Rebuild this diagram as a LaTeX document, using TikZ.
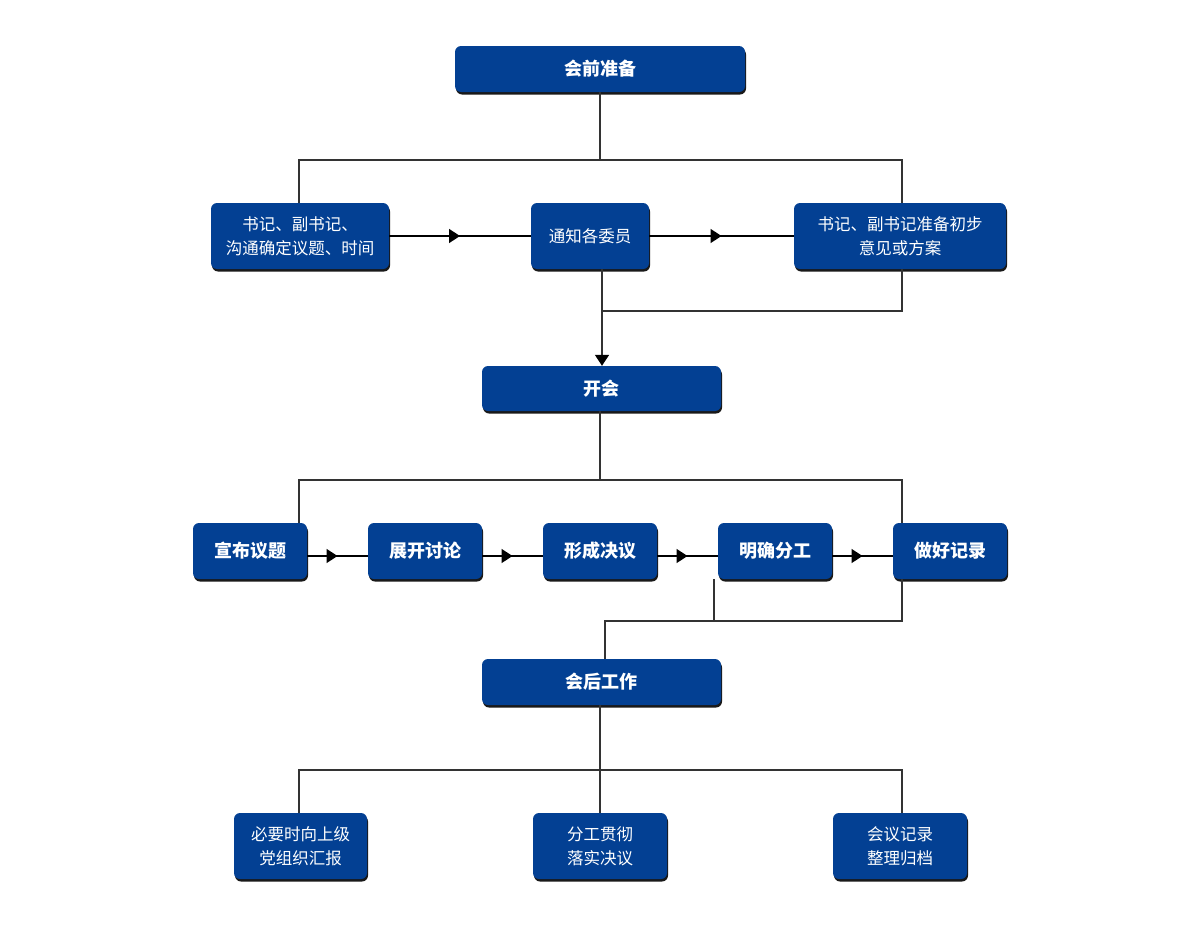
\documentclass[tikz,border=0pt]{standalone}
\usepackage{fontspec}
\setmainfont{Noto Sans CJK SC}
\usetikzlibrary{shadows,arrows.meta,decorations.markings,calc}
\definecolor{boxblue}{HTML}{034093}
\definecolor{linegray}{HTML}{333333}
\begin{document}
\begin{tikzpicture}[x=1pt,y=-1pt,
 box/.style={draw=none, fill=boxblue, rounded corners=6pt, text=white, align=center, inner sep=0pt,
   font=\fontsize{16.5}{24}\selectfont,
   drop shadow={shadow xshift=1pt,shadow yshift=-2.5pt,opacity=0.9,fill=black}},
 head/.style={box, font=\bfseries\fontsize{18}{22}\selectfont},
 conn/.style={draw=linegray, line width=1.6pt},
 flow/.style={draw=black, line width=1.6pt, postaction={decorate},
   decoration={markings, mark=at position 0.5 with {\arrow{Triangle[length=11pt,width=14pt]}}}},
 arr/.style={draw=linegray, line width=1.6pt, -{Triangle[length=11pt,width=14pt,color=black]}}
]
\useasboundingbox (0,0) rectangle (1200,926);
% nodes
\node[head, minimum width=290pt, minimum height=46pt] (pre) at (600,69) {会前准备};
\node[box, minimum width=178pt, minimum height=66pt] (s1) at (300,236) {书记、副书记、\\沟通确定议题、时间};
\node[box, minimum width=118pt, minimum height=66pt] (s2) at (590,236) {通知各委员};
\node[box, minimum width=212pt, minimum height=66pt] (s3) at (900,236) {书记、副书记准备初步\\意见或方案};
\node[head, minimum width=239pt, minimum height=45pt] (meet) at (601.5,388.5) {开会};
\node[head, minimum width=114pt, minimum height=56pt] (r1) at (250,551) {宣布议题};
\node[head, minimum width=114pt, minimum height=56pt] (r2) at (425,551) {展开讨论};
\node[head, minimum width=114pt, minimum height=56pt] (r3) at (600,551) {形成决议};
\node[head, minimum width=114pt, minimum height=56pt] (r4) at (775,551) {明确分工};
\node[head, minimum width=114pt, minimum height=56pt] (r5) at (950,551) {做好记录};
\node[head, minimum width=239pt, minimum height=46pt] (post) at (601.5,682) {会后工作};
\node[box, minimum width=133pt, minimum height=66pt] (t1) at (300.5,846) {必要时向上级\\党组织汇报};
\node[box, minimum width=134pt, minimum height=66pt] (t2) at (600,846) {分工贯彻\\落实决议};
\node[box, minimum width=134pt, minimum height=66pt] (t3) at (900,846) {会议记录\\整理归档};
% connectors
\coordinate (j1) at (600,160);
\draw[conn] (pre.south) -- (j1);
\draw[conn] ($(s1.north)+(-1,0)$) |- (j1) -| ($(s3.north)+(2,0)$);
\draw[flow] (s1.east) -- (s2.west);
\draw[flow] (s2.east) -- (s3.west);
\coordinate (a) at ($(s2.south)+(12,0)$);
\draw[arr] (a) -- (a |- meet.north);
\coordinate (j2) at (602,311);
\draw[conn] ($(s3.south)+(2,0)$) |- (j2);
\coordinate (j3) at (600,480);
\draw[conn] (meet.south -| j3) -- (j3);
\draw[conn] ($(r1.north east)+(-8,0)$) |- (j3) -| ($(r5.north west)+(9,0)$);
\draw[flow] ($(r1.east)+(0,5)$) -- ($(r2.west)+(0,5)$);
\draw[flow] ($(r2.east)+(0,5)$) -- ($(r3.west)+(0,5)$);
\draw[flow] ($(r3.east)+(0,5)$) -- ($(r4.west)+(0,5)$);
\draw[flow] ($(r4.east)+(0,5)$) -- ($(r5.west)+(0,5)$);
\coordinate (j4) at (605,621);
\coordinate (b4) at ($(r4.south west)+(-4,0)$);
\draw[conn] (b4) -- (b4 |- j4);
\draw[conn] ($(r5.south west)+(9,0)$) |- (j4) -- (j4 |- post.north);
\coordinate (j5) at (600,770);
\draw[conn] (post.south -| j5) -- (t2.north);
\draw[conn] ($(t1.north)+(-1.5,0)$) |- (j5) -| ($(t3.north)+(2,0)$);
\end{tikzpicture}
\end{document}
